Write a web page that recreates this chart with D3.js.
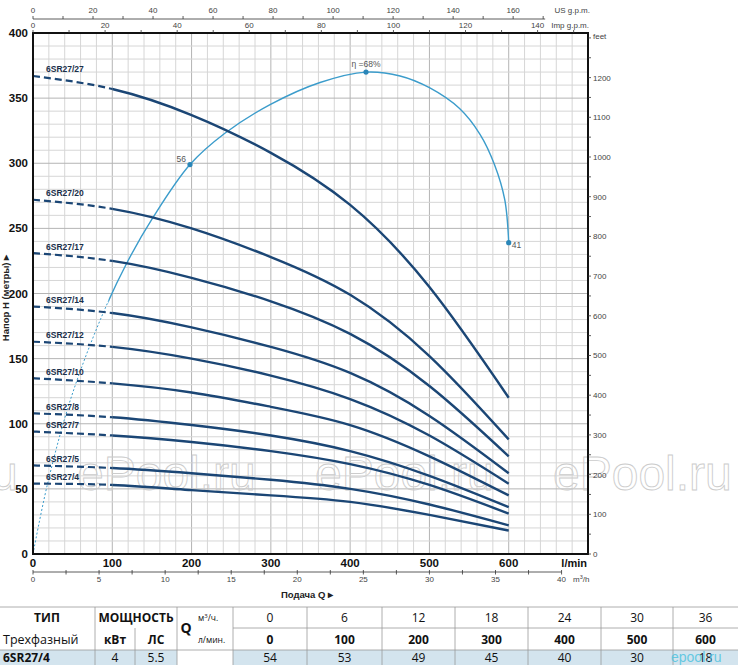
<!DOCTYPE html>
<html><head><meta charset="utf-8">
<script src="https://cdn.jsdelivr.net/npm/d3@7"></script>
<style>body{margin:0;background:#fff}svg{display:block}</style>
</head><body>
<svg id="c" width="738" height="665"></svg>
<script>
// ---------- DATA ----------
const qPoints = [0, 100, 200, 300, 400, 500, 600];           // l/min
const models = ["6SR27/27","6SR27/20","6SR27/17","6SR27/14","6SR27/12","6SR27/10","6SR27/8","6SR27/7","6SR27/5","6SR27/4"];
const h27 = [367, 357, 337, 308, 268, 205, 120];
const h20 = [272, 265, 250, 228, 199, 152, 88];
const h17 = [231, 225, 212, 194, 169, 129, 75];
const h14 = [190, 185, 174, 159, 139, 106, 62];
const h12 = [163, 159, 150, 137, 119, 91, 54];
const h10 = [135, 131, 124, 113, 99, 75, 45];
const h8  = [108, 105, 99, 91, 79, 60, 36];
const h7  = [94, 91, 86, 79, 69, 53, 31];
const h5  = [68, 66, 62, 57, 50, 38, 22];
const h4  = [54, 53, 49, 45, 40, 30, 18];
const headCurves = [h27, h20, h17, h14, h12, h10, h8, h7, h5, h4];

// efficiency curve (drawn against the head scale)
const effQ = [0, 18, 47, 85, 118, 151, 198, 242, 299, 362, 420, 463, 500, 538, 564, 582, 595, 600];
const effH = [0, 53, 118, 180, 223, 258, 299, 323, 345, 362, 370, 367, 358, 342, 322, 299, 272, 239];
const effMarkQ = [198, 420, 600];
const effMarkH = [299, 370, 239];
const effMarkLabel = ["56", "η =68%", "41"];

const yTicks = [0, 50, 100, 150, 200, 250, 300, 350, 400];
const xTicks = [0, 100, 200, 300, 400, 500, 600];

// table
const tblType = "6SR27/4", tblKW = "4", tblHP = "5.5";
const tblQm3 = [0, 6, 12, 18, 24, 30, 36];
const tblQl = [0, 100, 200, 300, 400, 500, 600];
const tblH = [54, 53, 49, 45, 40, 30, 18];

// ---------- CHART ----------
const svg = d3.select("#c");
const L = 33, R = 588, T = 33, B = 554;
const x = d3.scaleLinear().domain([0, 700]).range([L, R]);
const y = d3.scaleLinear().domain([0, 400]).range([B, T]);
const xUS = d3.scaleLinear().domain([0, 700 / 3.785]).range([L, R]);
const xImp = d3.scaleLinear().domain([0, 700 / 4.546]).range([L, R]);
const xM3 = d3.scaleLinear().domain([0, 42]).range([L, R]);
const yFt = d3.scaleLinear().domain([0, 400 / 0.3048]).range([B, T]);

const narrow = "'Liberation Sans Narrow','Liberation Sans',Arial,sans-serif";
const table = "'Open Sans','Noto Sans',sans-serif";

// grid
const g = svg.append("g");
d3.range(20, 700, 20).forEach(q => {
  g.append("line").attr("x1", x(q)).attr("x2", x(q)).attr("y1", T).attr("y2", B)
   .attr("stroke", q % 100 === 0 ? "#b4b4b4" : "#d6d6d6").attr("stroke-width", 1);
});
d3.range(10, 400, 10).forEach(h => {
  g.append("line").attr("x1", L).attr("x2", R).attr("y1", y(h)).attr("y2", y(h))
   .attr("stroke", h % 50 === 0 ? "#b4b4b4" : "#d6d6d6").attr("stroke-width", 1);
});

// watermark
[-161, 77, 315, 553].forEach(wx => {
  svg.append("text").attr("x", wx).attr("y", 490).text("ePool.ru")
    .attr("font-family", "'Liberation Sans',Arial,sans-serif").attr("font-size", 48)
    .attr("fill", "none").attr("stroke", "#cccccc").attr("stroke-width", 0.9);
});

// clip paths
const defs = svg.append("defs");
defs.append("clipPath").attr("id", "cDash").append("rect")
  .attr("x", 0).attr("y", 0).attr("width", x(100)).attr("height", 665);
defs.append("clipPath").attr("id", "cSolid").append("rect")
  .attr("x", x(100)).attr("y", 0).attr("width", 738).attr("height", 665);
defs.append("clipPath").attr("id", "eDash").append("rect")
  .attr("x", 0).attr("y", 0).attr("width", x(95)).attr("height", 665);
defs.append("clipPath").attr("id", "eSolid").append("rect")
  .attr("x", x(95)).attr("y", 0).attr("width", 738).attr("height", 665);

// efficiency
const effData = effQ.map((q, i) => [q, effH[i]]);
const effLine = d3.line().x(d => x(d[0])).y(d => y(d[1])).curve(d3.curveCatmullRom.alpha(0.5));
const effCol = "#3b9ccb";
svg.append("path").attr("d", effLine(effData)).attr("fill", "none").attr("stroke", effCol)
  .attr("stroke-width", 1).attr("stroke-dasharray", "2,2").attr("clip-path", "url(#eDash)");
svg.append("path").attr("d", effLine(effData)).attr("fill", "none").attr("stroke", effCol)
  .attr("stroke-width", 1.4).attr("clip-path", "url(#eSolid)");

// pump curves
const curveCol = "#1b4675";
const hl = d3.line().x((d, i) => x(qPoints[i])).y(d => y(d)).curve(d3.curveNatural);
headCurves.forEach((hc, k) => {
  svg.append("path").attr("d", hl(hc)).attr("fill", "none").attr("stroke", curveCol)
    .attr("stroke-width", 2.2).attr("stroke-dasharray", "7,4").attr("clip-path", "url(#cDash)");
  svg.append("path").attr("d", hl(hc)).attr("fill", "none").attr("stroke", curveCol)
    .attr("stroke-width", 2.4).attr("clip-path", "url(#cSolid)");
  svg.append("text").attr("x", 46).attr("y", y(hc[0]) - 3.5).text(models[k])
    .attr("font-family", narrow).attr("font-weight", "bold").attr("font-size", 8.5)
    .attr("fill", "#1a2f4a");
});

// efficiency markers
effMarkQ.forEach((q, i) => {
  svg.append("circle").attr("cx", x(q)).attr("cy", y(effMarkH[i])).attr("r", 2.6).attr("fill", "#2a86b8");
});
const eLbl = svg.append("g").attr("font-family", narrow).attr("font-size", 8.5).attr("fill", "#555");
eLbl.append("text").attr("x", x(effMarkQ[0]) - 4).attr("y", y(effMarkH[0]) - 3).attr("text-anchor", "end").text(effMarkLabel[0]);
eLbl.append("text").attr("x", x(effMarkQ[1])).attr("y", y(effMarkH[1]) - 5).attr("text-anchor", "middle").text(effMarkLabel[1]);
eLbl.append("text").attr("x", x(effMarkQ[2]) + 3).attr("y", y(effMarkH[2]) + 5).attr("text-anchor", "start").text(effMarkLabel[2]);

// frame
const fr = svg.append("g").attr("stroke", "#111").attr("stroke-width", 2);
fr.append("line").attr("x1", L).attr("x2", L).attr("y1", T - 1).attr("y2", B + 1);
fr.append("line").attr("x1", R).attr("x2", R).attr("y1", T - 1).attr("y2", B + 1);
fr.append("line").attr("x1", L - 1).attr("x2", R + 1).attr("y1", T).attr("y2", T);
fr.append("line").attr("x1", L - 1).attr("x2", R + 1).attr("y1", B).attr("y2", B);

// left axis labels
yTicks.forEach(h => {
  svg.append("text").attr("x", 28).attr("y", y(h) + 4).attr("text-anchor", "end").text(h)
    .attr("font-family", narrow).attr("font-weight", "bold").attr("font-size", 11.5).attr("fill", "#111");
});
svg.append("text").attr("transform", "translate(9,298) rotate(-90)").attr("text-anchor", "middle")
  .text("Напор H (метры) ▸").attr("font-family", "'Liberation Sans',Arial,sans-serif")
  .attr("font-weight", "bold").attr("font-size", 9.5).attr("fill", "#222");

// bottom l/min labels
xTicks.forEach(q => {
  svg.append("text").attr("x", x(q)).attr("y", 567).attr("text-anchor", "middle").text(q)
    .attr("font-family", narrow).attr("font-weight", "bold").attr("font-size", 11.5).attr("fill", "#111");
});
svg.append("text").attr("x", 587).attr("y", 567).attr("text-anchor", "end").text("l/min")
  .attr("font-family", narrow).attr("font-weight", "bold").attr("font-size", 11).attr("fill", "#111");

// m3/h axis
const small = svg.append("g").attr("font-family", narrow).attr("font-size", 8).attr("fill", "#444");
const axc = "#333";
svg.append("line").attr("x1", xM3(0)).attr("x2", xM3(40)).attr("y1", 572).attr("y2", 572).attr("stroke", axc).attr("stroke-width", 0.8);
d3.range(0, 40.01, 2.5).forEach(v => {
  svg.append("line").attr("x1", xM3(v)).attr("x2", xM3(v)).attr("y1", 570).attr("y2", 574.5).attr("stroke", axc).attr("stroke-width", 0.8);
  if (v % 5 === 0) small.append("text").attr("x", xM3(v)).attr("y", 582).attr("text-anchor", "middle").text(v);
});
small.append("text").attr("x", 573).attr("y", 582).html("m<tspan font-size='5.5' dy='-3'>3</tspan><tspan dy='3'>/h</tspan>");
svg.append("text").attr("x", 307).attr("y", 598).attr("text-anchor", "middle").text("Подача  Q  ▸")
  .attr("font-family", "'Liberation Sans',Arial,sans-serif").attr("font-weight", "bold").attr("font-size", 9.5).attr("fill", "#222");

// US gpm axis
svg.append("line").attr("x1", xUS(0)).attr("x2", xUS(170) + 2).attr("y1", 19).attr("y2", 19).attr("stroke", axc).attr("stroke-width", 0.8);
d3.range(0, 171, 10).forEach(v => {
  svg.append("line").attr("x1", xUS(v)).attr("x2", xUS(v)).attr("y1", 16).attr("y2", 19).attr("stroke", axc).attr("stroke-width", 0.8);
  if (v % 20 === 0) small.append("text").attr("x", xUS(v)).attr("y", 13).attr("text-anchor", "middle").text(v);
});
small.append("text").attr("x", 590).attr("y", 13).attr("text-anchor", "end").text("US g.p.m.");

// Imp gpm axis
d3.range(0, 151, 10).forEach(v => {
  svg.append("line").attr("x1", xImp(v)).attr("x2", xImp(v)).attr("y1", 30).attr("y2", 33).attr("stroke", axc).attr("stroke-width", 0.8);
  if (v % 20 === 0) small.append("text").attr("x", xImp(v)).attr("y", 28).attr("text-anchor", "middle").text(v);
});
small.append("text").attr("x", 589).attr("y", 28).attr("text-anchor", "end").text("Imp g.p.m.");

// feet axis
d3.range(0, 1301, 50).forEach(v => {
  svg.append("line").attr("x1", R).attr("x2", R + 3).attr("y1", yFt(v)).attr("y2", yFt(v)).attr("stroke", axc).attr("stroke-width", 0.8);
  if (v % 100 === 0 && v < 1300) small.append("text").attr("x", R + 5).attr("y", yFt(v) + 3).text(v);
});
small.append("text").attr("x", R + 5).attr("y", 39).text("feet");

// ---------- TABLE ----------
const tb = svg.append("g").attr("font-family", table).attr("fill", "#111");
const colX = [233, 307, 382, 455, 528, 601, 673, 738];
const rowY = [607, 628, 650, 665];
tb.append("rect").attr("x", 0).attr("y", rowY[2]).attr("width", 177).attr("height", 15).attr("fill", "#d3e4ee");
tb.append("rect").attr("x", 233).attr("y", rowY[2]).attr("width", 505).attr("height", 15).attr("fill", "#d3e4ee");
const tl = tb.append("g").attr("stroke", "#9a9a9a").attr("stroke-width", 0.8);
tl.append("line").attr("x1", 0).attr("x2", 738).attr("y1", rowY[0]).attr("y2", rowY[0]);
tl.append("line").attr("x1", 0).attr("x2", 738).attr("y1", rowY[2]).attr("y2", rowY[2]);
tl.append("line").attr("x1", 233).attr("x2", 738).attr("y1", rowY[1]).attr("y2", rowY[1]);
[95, 177].forEach(cx => tl.append("line").attr("x1", cx).attr("x2", cx).attr("y1", rowY[0]).attr("y2", 665));
tl.append("line").attr("x1", 135).attr("x2", 135).attr("y1", rowY[1]).attr("y2", 665);
colX.slice(0, 7).forEach(cx => tl.append("line").attr("x1", cx).attr("x2", cx).attr("y1", rowY[0]).attr("y2", 665));

tb.append("text").attr("x", 47).attr("y", 622).attr("text-anchor", "middle").attr("font-weight", "bold").attr("font-size", 12).text("ТИП");
tb.append("text").attr("x", 136).attr("y", 622).attr("text-anchor", "middle").attr("font-weight", "bold").attr("font-size", 12).text("МОЩНОСТЬ");
tb.append("text").attr("x", 3).attr("y", 644).attr("font-size", 12.5).text("Трехфазный");
tb.append("text").attr("x", 115).attr("y", 644).attr("text-anchor", "middle").attr("font-weight", "bold").attr("font-size", 12).text("кВт");
tb.append("text").attr("x", 156).attr("y", 644).attr("text-anchor", "middle").attr("font-weight", "bold").attr("font-size", 12).text("ЛС");
tb.append("text").attr("x", 186).attr("y", 633).attr("text-anchor", "middle").attr("font-weight", "bold").attr("font-size", 14).text("Q");
tb.append("text").attr("x", 198).attr("y", 621).attr("font-size", 8.5).html("м<tspan font-size='6' dy='-3'>3</tspan><tspan dy='3'>/ч.</tspan>");
tb.append("text").attr("x", 198).attr("y", 643).attr("font-size", 8.5).text("л/мин.");
tb.append("text").attr("x", 3).attr("y", 662).attr("font-weight", "bold").attr("font-size", 12).text(tblType);
tb.append("text").attr("x", 115).attr("y", 662).attr("text-anchor", "middle").attr("font-size", 12).text(tblKW);
tb.append("text").attr("x", 156).attr("y", 662).attr("text-anchor", "middle").attr("font-size", 12).text(tblHP);
tblQm3.forEach((v, i) => {
  const cx = (colX[i] + colX[i + 1]) / 2;
  tb.append("text").attr("x", cx).attr("y", 622).attr("text-anchor", "middle").attr("font-size", 12).text(v);
  tb.append("text").attr("x", cx).attr("y", 644).attr("text-anchor", "middle").attr("font-weight", "bold").attr("font-size", 12).text(tblQl[i]);
  tb.append("text").attr("x", cx).attr("y", 662).attr("text-anchor", "middle").attr("font-size", 12).text(tblH[i]);
});
svg.append("text").attr("x", 671).attr("y", 662).text("epool.ru").attr("font-family", "'Liberation Sans',Arial,sans-serif")
  .attr("font-size", 14).attr("fill", "#4fc3df").attr("fill-opacity", 0.85);
</script>
</body></html>
